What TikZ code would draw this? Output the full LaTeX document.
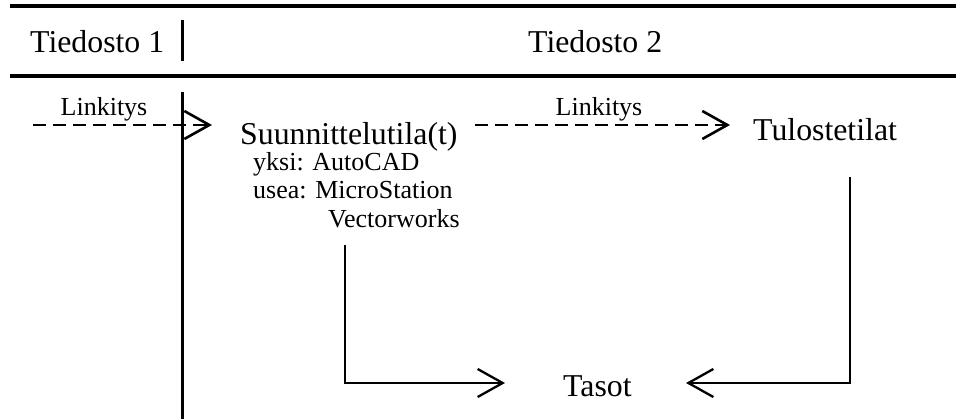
\documentclass[tikz,border=0pt]{standalone}
\usepackage{fontspec}
\setmainfont{Liberation Serif}
\usetikzlibrary{arrows.meta}
\begin{document}
\begin{tikzpicture}[x=1pt,y=-1pt,
  rule/.style={line width=4pt},
  lane/.style={line width=3pt},
  flow/.style={line width=2.3pt,-{Straight Barb[length=25pt,width=28pt]}},
  link/.style={flow,line width=2.6pt,dash pattern=on 13pt off 7pt},
  big/.style={font=\fontsize{31.8}{36}\selectfont,inner sep=0pt,anchor=base west},
  small/.style={font=\fontsize{26}{30}\selectfont,inner sep=0pt,anchor=base west},
  tag/.style={font=\fontsize{26}{30}\selectfont,inner sep=0pt,anchor=base},
]
\useasboundingbox (0,0) rectangle (956,419);

% header rules and file lanes
\coordinate (r1a) at (10,6);   \coordinate (r1b) at (956,6);
\coordinate (r2a) at (10,76);  \coordinate (r2b) at (956,76);
\draw[rule] (r1a) -- (r1b);
\draw[rule] (r2a) -- (r2b);
\coordinate (sepT) at (182,20); \coordinate (sepB) at (182,61);
\draw[lane] (sepT) -- (sepB);
\coordinate (laneT) at (182,92); \coordinate (laneB) at (182,419);
\draw[lane] (laneT) -- (laneB);

\node[big] (f1) at (30,53) {Tiedosto 1};
\node[big] (f2) at (528,53) {Tiedosto 2};

% spaces
\node[big] (suun) at (240,145) {Suunnittelutila(t)};
\node[small] (yksi) at (253,171) {yksi: AutoCAD};
\node[small] (usea) at (253,199) {usea: MicroStation};
\node[small] (vect) at (328,228) {Vectorworks};
\node[big] (tulo) at (753,141) {Tulostetilat};
\node[big] (taso) at (563,397) {Tasot};

% links
\coordinate (l1a) at (33,125);  \coordinate (l1b) at (212,125);
\draw[link] (l1a) -- (l1b);
\node[tag] (l1t) at (104,116) {Linkitys};
\coordinate (l2a) at (475,125); \coordinate (l2b) at (730,125);
\draw[link] (l2a) -- (l2b);
\node[tag] (l2t) at (599,116) {Linkitys};

% connections to layers
\coordinate (v1) at (345,245); \coordinate (v1c) at (345,383); \coordinate (v1e) at (505,383);
\draw[flow] (v1) -- (v1c) -- (v1e);
\coordinate (v2) at (850,177); \coordinate (v2c) at (850,383); \coordinate (v2e) at (686,383);
\draw[flow] (v2) -- (v2c) -- (v2e);
\end{tikzpicture}
\end{document}
